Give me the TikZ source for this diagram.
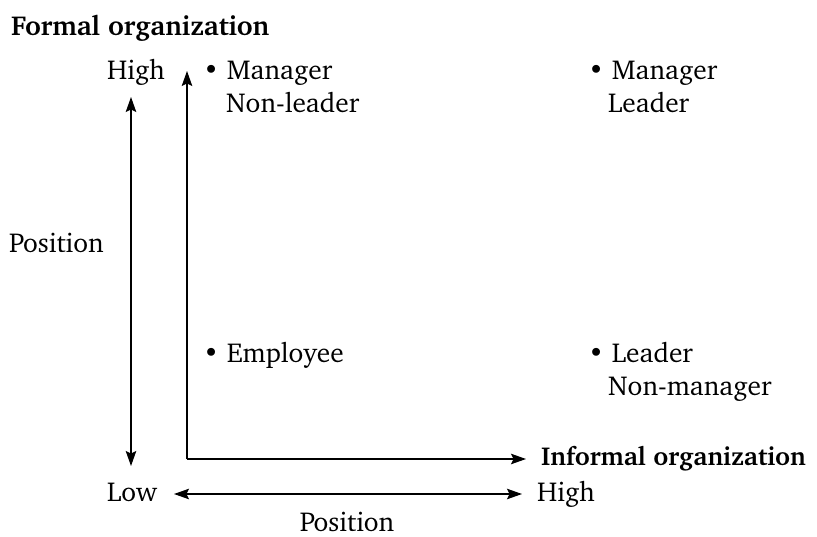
\documentclass[tikz,border=0pt]{standalone}
\usepackage[T1]{fontenc}
\usepackage{charter}
\usetikzlibrary{arrows.meta}
\begin{document}
\begin{tikzpicture}[x=1bp,y=-1bp,
  lbl/.style={inner sep=0pt,anchor=base west,font=\fontsize{27.5}{33}\selectfont},
  head/.style={lbl,font=\fontsize{27.5}{33}\selectfont\bfseries},
  tip/.tip={Stealth[length=15bp,width=10.5bp,inset=2.5bp]},
  axis/.style={line width=1.2bp,-tip},
  dbl/.style={line width=1.2bp,tip-tip}]
\useasboundingbox (0,0) rectangle (817,537);
% titles of the two axes
\node[head] (formal) at (11,36) {Formal organization};
\node[head,font=\fontsize{26}{31}\selectfont\bfseries] (informal) at (541,465) {Informal organization};
% scale labels
\node[lbl] (vhigh) at (107,80) {High};
\node[lbl] (vlow) at (107,501) {Low};
\node[lbl] (hhigh) at (537,501) {High};
\node[lbl] (vpos) at (9,253) {Position};
\node[lbl,anchor=base] (hpos) at (347,531) {Position};
% quadrant entries
\node[lbl] (q1) at (203,80) {\textbullet\ Manager};
\node[lbl] (q1b) at (226,113) {Non-leader};
\node[lbl] (q2) at (588,80) {\textbullet\ Manager};
\node[lbl] (q2b) at (608,113) {Leader};
\node[lbl] (q3) at (203,362) {\textbullet\ Employee};
\node[lbl] (q4) at (588,362) {\textbullet\ Leader};
\node[lbl] (q4b) at (608,395) {Non-manager};
% axes
\coordinate (origin) at (187,459);
\coordinate (ytop) at (187,71);
\coordinate (xend) at (526,459);
\draw[axis] (origin) -- (ytop);
\draw[axis] (origin) -- (xend);
% position ranges
\coordinate (pt) at (131,97);
\coordinate (pb) at (131,466);
\draw[dbl] (pt) -- (pb);
\coordinate (pl) at (174,494);
\coordinate (pr) at (522,494);
\draw[dbl] (pl) -- (pr);
\end{tikzpicture}
\end{document}
